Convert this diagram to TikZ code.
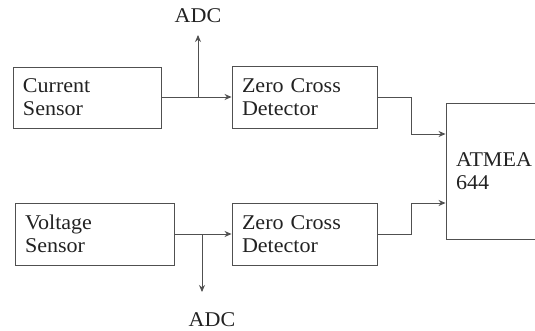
\documentclass[tikz,border=0pt]{standalone}
\usepackage{fontspec}
\setmainfont[FakeStretch=1.05]{Liberation Serif}
\usetikzlibrary{arrows.meta}
\definecolor{linec}{HTML}{505050}
\definecolor{textc}{HTML}{222222}
\begin{document}
\begin{tikzpicture}[x=1pt,y=-1pt,
  blk/.style={draw=linec, line width=0.9pt, rectangle, inner xsep=10pt, inner ysep=0pt,
    align=left, font=\fontsize{21}{23}\selectfont, text=textc},
  conn/.style={draw=linec, line width=0.9pt, -{Stealth[length=7pt,width=6pt]}},
  lbl/.style={font=\fontsize{21}{23}\selectfont, text=textc, inner sep=0pt}]
\useasboundingbox (0,0) rectangle (535,331);
\clip (0,0) rectangle (535,331);
\node[blk, minimum width=148pt, minimum height=61pt, text width=128pt] (cs) at (87,97.5) {Current\\Sensor};
\node[blk, minimum width=159pt, minimum height=62pt, text width=139pt] (vs) at (94.5,234) {Voltage\\Sensor};
\node[blk, minimum width=145pt, minimum height=62pt, text width=125pt] (z1) at (304.5,97) {Zero Cross\\Detector};
\node[blk, minimum width=145pt, minimum height=62pt, text width=125pt] (z2) at (304.5,234) {Zero Cross\\Detector};
\node[blk, minimum width=114pt, minimum height=136pt, text width=94pt] (atm) at (503,171) {ATMEA\\644};
\node[lbl] (adc1) at (198,16) {ADC};
\node[lbl] (adc2) at (212,320) {ADC};
\coordinate (b1) at (198,97);
\coordinate (t1) at (198,35);
\coordinate (b2) at (202,234);
\coordinate (t2) at (202,292);
\draw[conn] (cs.east |- b1) -- (z1.west |- b1);
\draw[conn] (b1) -- (t1);
\draw[conn] (vs.east) -- (z2.west);
\draw[conn] (b2) -- (t2);
\draw[conn] (z1.east) -- (411,97) -- (411,134) -- (atm.west |- 0,134);
\draw[conn] (z2.east) -- (411,234) -- (411,203) -- (atm.west |- 0,203);
\end{tikzpicture}
\end{document}
